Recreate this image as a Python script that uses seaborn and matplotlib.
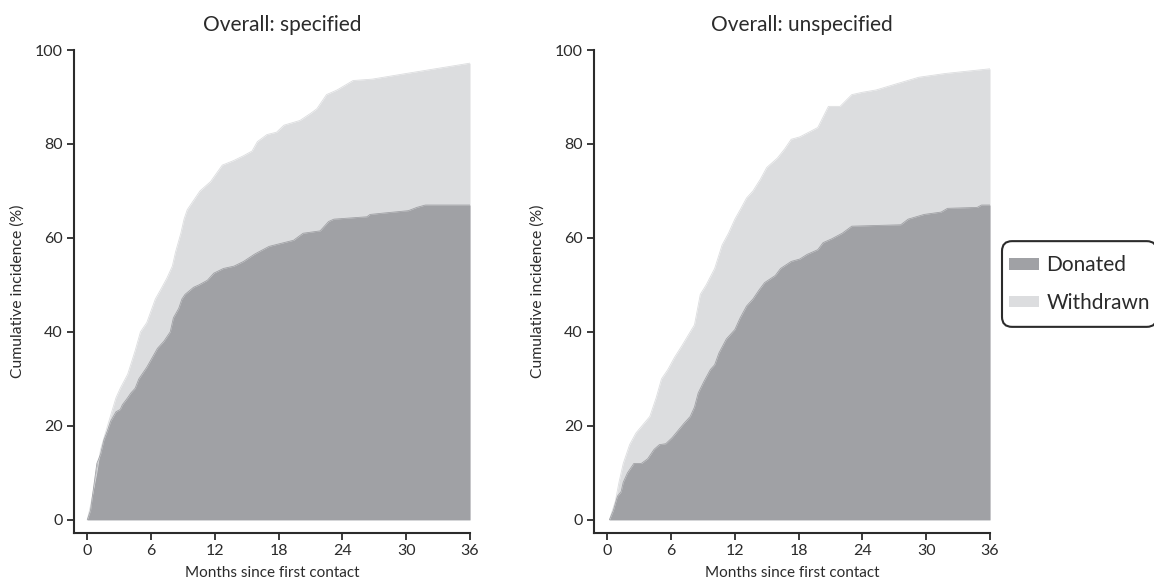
import numpy as np
import pandas as pd
import matplotlib
matplotlib.use("Agg")
import matplotlib.pyplot as plt
import matplotlib.transforms as mtransforms
import seaborn as sns
from matplotlib.patches import Patch, FancyBboxPatch

# ---------------- data ----------------
titles = ["Overall: specified", "Overall: unspecified"]
x_ticks = [0, 6, 12, 18, 24, 30, 36]
y_ticks = [0, 20, 40, 60, 80, 100]
legend_labels = ["Donated", "Withdrawn"]

# Specified: cumulative incidence of donation
spec_don_t = [0.0, 0.3, 0.6, 0.9, 1.25, 1.56, 1.9, 2.2, 2.7, 3.1, 3.3, 3.8, 4.1, 4.5, 4.85, 5.3, 5.6,
              6.1, 6.6, 7.2, 7.8, 8.1, 8.6, 8.9, 9.2, 10.0, 10.5, 11.3, 11.9, 12.8, 13.8, 14.7, 15.7,
              16.1, 17.1, 18.5, 19.4, 20.3, 21.9, 22.7, 23.2, 26.3, 26.6, 27.9, 30.2, 31.0, 31.8, 36.0]
spec_don_y = [0.0, 2.0, 7.0, 12.0, 14.0, 17.0, 19.0, 21.0, 23.0, 23.5, 24.5, 26.0, 27.0, 28.0, 30.0, 31.5, 32.5,
              34.5, 36.5, 38.0, 40.0, 43.0, 45.0, 47.0, 48.0, 49.5, 50.0, 51.0, 52.5, 53.5, 54.0, 55.0, 56.5,
              57.0, 58.2, 59.0, 59.5, 61.0, 61.5, 63.5, 64.0, 64.5, 65.0, 65.3, 65.8, 66.5, 67.0, 67.0]
# Specified: cumulative incidence of donation + withdrawal (top of stack)
spec_tot_t = [0.0, 0.3, 0.9, 1.25, 1.9, 2.7, 3.1, 3.8, 4.5, 5.0, 5.6, 6.4, 6.9, 7.5, 8.0, 8.3, 8.8, 9.1,
              9.4, 10.0, 10.6, 11.6, 12.7, 13.8, 14.7, 15.5, 16.0, 16.9, 17.8, 18.5, 20.0, 21.0, 21.6,
              22.5, 23.5, 25.0, 26.8, 30.0, 36.0]
spec_tot_y = [0.0, 3.0, 10.0, 15.0, 20.0, 26.0, 28.0, 31.0, 36.0, 40.0, 42.0, 47.0, 49.0, 51.5, 54.0, 57.0, 61.0, 64.0,
              66.0, 68.0, 70.0, 72.0, 75.5, 76.5, 77.5, 78.5, 80.5, 82.0, 82.5, 84.0, 85.0, 86.5, 87.5,
              90.5, 91.5, 93.5, 93.8, 95.0, 97.2]

# Unspecified: cumulative incidence of donation
unsp_don_t = [0.2, 0.57, 0.95, 1.3, 1.5, 1.9, 2.5, 3.2, 3.8, 4.4, 4.9, 5.5, 6.1, 6.65, 7.2, 7.8, 8.2, 8.55,
              9.1, 9.7, 10.1, 10.5, 11.2, 12.0, 12.5, 13.1, 13.7, 14.3, 14.8, 15.8, 16.3, 17.3, 18.1, 18.8,
              19.8, 20.3, 21.1, 22.1, 23.0, 27.6, 28.3, 29.8, 31.4, 32.0, 34.8, 35.2, 36.0]
unsp_don_y = [0.0, 2.0, 5.0, 6.0, 8.0, 10.0, 12.0, 12.0, 13.0, 15.0, 16.0, 16.2, 17.5, 19.0, 20.5, 22.0, 24.0, 27.0,
              29.5, 32.0, 33.0, 35.5, 38.5, 40.5, 43.0, 45.5, 47.0, 49.0, 50.5, 52.0, 53.5, 55.0, 55.5, 56.5,
              57.5, 59.0, 59.8, 61.0, 62.5, 62.8, 64.0, 65.0, 65.5, 66.3, 66.5, 67.0, 67.0]
# Unspecified: cumulative incidence of donation + withdrawal (top of stack)
unsp_tot_t = [0.2, 0.76, 1.1, 1.5, 2.1, 2.7, 4.0, 4.6, 5.1, 5.7, 6.3, 7.0, 8.2, 8.75, 9.3, 10.1, 10.8, 11.4,
              12.0, 12.5, 13.1, 13.7, 14.4, 15.0, 16.0, 16.7, 17.3, 18.1, 19.8, 20.8, 21.9, 23.0, 24.0,
              25.3, 27.2, 29.3, 31.8, 36.0]
unsp_tot_y = [0.0, 4.0, 8.0, 12.0, 16.0, 18.5, 22.0, 26.0, 30.0, 32.0, 34.5, 37.0, 41.5, 48.0, 50.0, 53.5, 58.5, 61.0,
              64.0, 66.0, 68.5, 70.0, 72.5, 75.0, 77.0, 79.0, 81.0, 81.5, 83.5, 88.0, 88.0, 90.5, 91.0,
              91.5, 92.8, 94.2, 95.0, 96.0]

# ---------------- style ----------------
sns.set_theme(style="ticks")
plt.rcParams['font.family'] = ['Lato', 'DejaVu Sans']
DARK = "#a0a1a5"
LIGHT = "#dcdddf"
INK = "#2b2b2b"

fig = plt.figure(figsize=(11.54, 5.82), dpi=100)
W, H = 1154, 582
ax_boxes = [(74, 470), (594, 990)]
top_px, bot_px = 50, 533

panels = [
    (spec_don_t, spec_don_y, spec_tot_t, spec_tot_y),
    (unsp_don_t, unsp_don_y, unsp_tot_t, unsp_tot_y),
]

for i, ((xl, xr), (dt, dy, tt, ty)) in enumerate(zip(ax_boxes, panels)):
    ax = fig.add_axes([xl / W, (H - bot_px) / H, (xr - xl) / W, (bot_px - top_px) / H])
    df_tot = pd.DataFrame({"t": tt, "y": ty})
    df_don = pd.DataFrame({"t": dt, "y": dy})
    # withdrawn (stacked on top of donated): draw total first
    sns.lineplot(data=df_tot, x="t", y="y", ax=ax, color=LIGHT, lw=0.6,
                 estimator=None, sort=False)
    ax.fill_between(df_tot["t"], 0, df_tot["y"], color=LIGHT, lw=0)
    sns.lineplot(data=df_don, x="t", y="y", ax=ax, color=DARK, lw=0.6,
                 estimator=None, sort=False)
    ax.fill_between(df_don["t"], 0, df_don["y"], color=DARK, lw=0)

    ax.set_xlim(-1.25, 36)
    ax.set_ylim(-2.8, 100)
    ax.set_xticks(x_ticks)
    ax.set_yticks(y_ticks)
    ax.set_title(titles[i], fontsize=15, color=INK, pad=13.5, x=0.525)
    ax.set_xlabel("Months since first contact", fontsize=11, color=INK, labelpad=5.5)
    ax.set_ylabel("Cumulative incidence (%)", fontsize=11.3, color=INK, labelpad=7)
    ax.tick_params(axis="both", direction="out", length=5, width=1.3, colors=INK,
                   labelsize=11.5, pad=3)
    for side in ["left", "bottom"]:
        ax.spines[side].set_linewidth(1.5)
        ax.spines[side].set_color(INK)
    sns.despine(ax=ax)

handles = [Patch(facecolor=DARK, edgecolor="none"), Patch(facecolor=LIGHT, edgecolor="none")]
leg = fig.legend(handles, legend_labels, loc="center left", bbox_to_anchor=(1009 / W, 1 - 284 / H),
                 frameon=False, fontsize=15, handlelength=1.45, handleheight=0.5,
                 handletextpad=0.34, borderpad=0.0, labelspacing=0.85, borderaxespad=0)
for t in leg.get_texts():
    t.set_color(INK)

# rounded frame around the legend content (padding larger vertically than horizontally)
fig.canvas.draw()
bb = leg.get_window_extent()
pad_h, pad_v = 7, 14
frame = FancyBboxPatch((bb.x0 - pad_h, bb.y0 - pad_v), bb.width + 2 * pad_h, bb.height + 2 * pad_v,
                       boxstyle="round,pad=0,rounding_size=10", facecolor="white",
                       edgecolor=INK, linewidth=1.5, transform=mtransforms.IdentityTransform(),
                       zorder=leg.get_zorder() - 0.1)
fig.add_artist(frame)

fig.savefig("out.png", dpi=100)
